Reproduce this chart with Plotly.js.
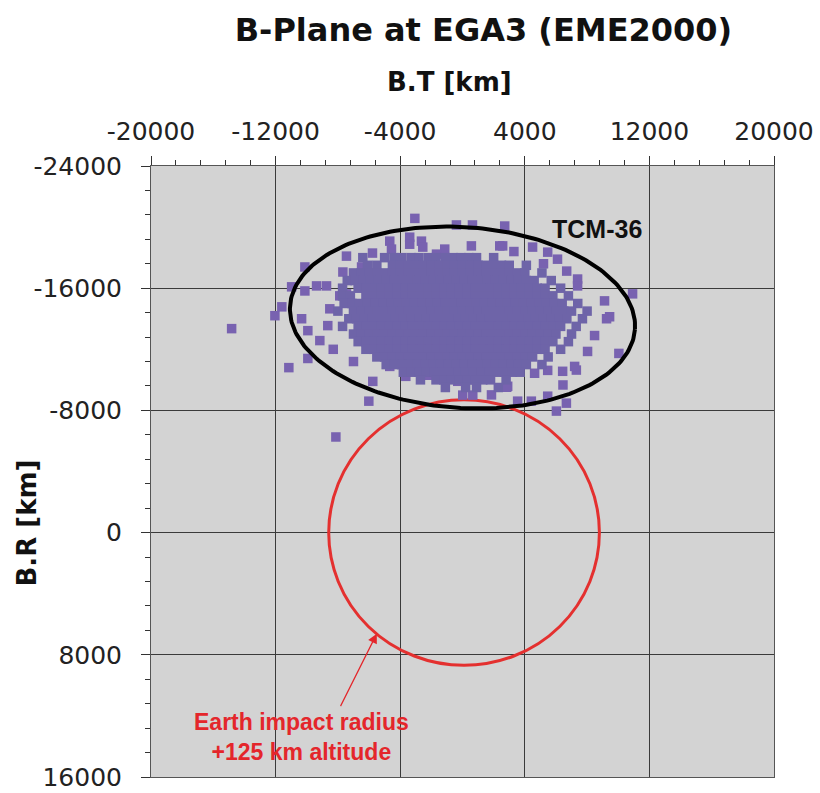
<!DOCTYPE html>
<html>
<head>
<meta charset="utf-8">
<script src="https://cdn.plot.ly/plotly-3.0.1.min.js"></script>
<style>html,body{margin:0;padding:0;background:#fff;}#chart{width:820px;height:793px;}</style>
</head>
<body>
<div id="chart"></div>
<script>
// ---- Tick labels ----
const xTickVals = [-20000, -12000, -4000, 4000, 12000, 20000];
const xTickText = ['-20000', '-12000', '-4000', '4000', '12000', '20000'];
const yTickVals = [-24000, -16000, -8000, 0, 8000, 16000];
const yTickText = ['-24000', '-16000', '-8000', '0', '8000', '16000'];

// ---- Sparse / outlying Monte-Carlo samples (B.T, B.R in km) ----
const outX = [-14823,-11150,-9930,-9160,-9930,-8650,-6015,-8130,-3640,-5760,-4670,-12045,-11600,-10970,-10120,-10120,-9370,-8730,-7450,-7680,-10330,-8520,-7880,-7450,-6480,-3060,-390,640,-3390,-3390,-4670,-4560,-5780,-2635,-2550,-1140,-1670,570,2390,2710,2580,4500,5470,7390,7390,9120,10920,9445,6690,8480,8030,10040,6450,6030,6670,5470,4420,3540,2840,1860,660,15,7310,6430,5470,4630,9250,7200,-2615,-2230,-1140,-306,2900,-8300,-7000,5200,6100,3300];
const outY = [-13353,-10800,-11400,-12570,-13220,-13550,-8605,-6260,-10230,-9900,-10880,-14200,-14780,-16090,-17390,-15820,-16150,-16150,-18100,-17060,-14000,-14650,-15500,-15630,-17390,-20570,-20140,-20140,-19340,-18880,-19080,-18560,-18300,-19080,-18690,-18560,-18230,-18770,-18770,-20070,-18770,-18690,-18360,-16600,-16150,-15170,-15630,-14130,-17120,-12900,-11860,-11730,-9665,-7955,-8475,-8930,-8605,-8605,-9516,-9015,-9000,-9000,-10640,-10560,-10620,-10430,-14000,-10880,-10620,-10300,-10430,-9906,-9580,-12000,-11200,-17600,-17900,-18400];

// ---- Dense core samples, read row by row (B.R of the row, B.T values) ----
const coreRowY = [-18000,-17500,-17000,-16500,-16000,-15500,-15000,-14500,-14000,-13500,-13000,-12500,-12000,-11500,-11000,-10500,-10000,-9500];
const coreRowX = [
  [-6400,-5000,-4400,-3900,-3300,-2800,-2200,-1700,-1100,-600,-100,400,900,2000],
  [-6100,-5500,-4500,-4000,-3500,-3000,-2500,-2000,-1500,-1000,-500,0,500,1000,1500,2000,2500,3000,4100],
  [-7000,-6500,-6000,-5500,-5000,-4500,-4000,-3500,-3000,-2500,-2000,-1500,-1000,-500,0,500,1000,1500,2000,2500,3000,3500,4000,5100],
  [-7400,-6900,-6400,-5900,-5400,-4900,-4400,-3900,-3400,-2900,-2400,-1900,-1400,-900,-400,100,600,1100,1600,2100,2600,3100,3600,4100,4600,5700],
  [-7700,-6700,-6200,-5700,-5200,-4700,-4200,-3700,-3200,-2700,-2200,-1700,-1200,-700,-200,300,800,1300,1800,2300,2800,3300,3800,4300,4800,5300,6300],
  [-7700,-7200,-6200,-5700,-5200,-4700,-4200,-3700,-3200,-2700,-2200,-1700,-1200,-700,-200,300,800,1300,1800,2300,2800,3300,3800,4300,4800,5300,5800,6800],
  [-7600,-7100,-6600,-6100,-5600,-5100,-4600,-4100,-3600,-3100,-2600,-2100,-1600,-1100,-600,-100,400,900,1400,1900,2400,2900,3400,3900,4400,4900,5400,5900,6400,7400],
  [-8000,-7000,-6500,-6000,-5500,-5000,-4500,-4000,-3500,-3000,-2500,-2000,-1500,-1000,-500,0,500,1000,1500,2000,2500,3000,3500,4000,4500,5000,5500,6000,6500,7000,8000],
  [-7300,-6800,-6300,-5800,-5300,-4800,-4300,-3800,-3300,-2800,-2300,-1800,-1300,-800,-300,200,700,1200,1700,2200,2700,3200,3700,4200,4700,5200,5700,6200,6700,7700],
  [-7700,-6700,-6200,-5700,-5200,-4700,-4200,-3700,-3200,-2700,-2200,-1700,-1200,-700,-200,300,800,1300,1800,2300,2800,3300,3800,4300,4800,5300,5800,6300,7300],
  [-7000,-6500,-6000,-5500,-5000,-4500,-4000,-3500,-3000,-2500,-2000,-1500,-1000,-500,0,500,1000,1500,2000,2500,3000,3500,4000,4500,5000,5500,6000,7000],
  [-6700,-6200,-5700,-5200,-4700,-4200,-3700,-3200,-2700,-2200,-1700,-1200,-700,-200,300,800,1300,1800,2300,2800,3300,3800,4300,4800,5300,5800,6800],
  [-6200,-5700,-5200,-4700,-4200,-3700,-3200,-2700,-2200,-1700,-1200,-700,-200,300,800,1300,1800,2300,2800,3300,3800,4300,4800,5300,6300],
  [-5500,-5000,-4500,-4000,-3500,-3000,-2500,-2000,-1500,-1000,-500,0,500,1000,1500,2000,2500,3000,3500,4000,4500,5500],
  [-4900,-4400,-3900,-3400,-2900,-2400,-1900,-1400,-900,-400,100,600,1100,1600,2100,2600,3100,3600,4100,5100],
  [-3800,-3300,-2800,-2300,-1800,-1300,-800,-300,200,700,1200,1700,2200,2700,3200,3700],
  [-2700,-1700,-1200,-700,-200,300,800,1300,1800,2800],
  [-1100,200,900,2300]
];

// ---- TCM-36 dispersion ellipse (centre, semi-axes km, tilt deg) ----
const ellCenter = [0, -14080];
const ellAxes = [11100, 5920];
const ellTiltDeg = 4;

// ---- Earth impact circle (centre, radius km) ----
const earthCenter = [100, 0];
const earthRadius = 8690;

// build sample arrays
const coreX = [], coreY = [];
coreRowY.forEach((yv, i) => coreRowX[i].forEach(xv => { coreX.push(xv); coreY.push(yv); }));

// ellipse outline
const ex = [], ey = [];
const th = ellTiltDeg * Math.PI / 180;
for (let k = 0; k <= 240; k++) {
  const t = 2 * Math.PI * k / 240;
  const u = ellAxes[0] * Math.cos(t), v = ellAxes[1] * Math.sin(t);
  ex.push(ellCenter[0] + u * Math.cos(th) - v * Math.sin(th));
  ey.push(ellCenter[1] + u * Math.sin(th) + v * Math.cos(th));
}

const traces = [
  {type: 'scatter', mode: 'markers', x: outX, y: outY,
   marker: {symbol: 'square', size: 9.5, color: '#7862b0', line: {width: 0}},
   hoverinfo: 'x+y', showlegend: false},
  {type: 'scatter', mode: 'markers', x: coreX, y: coreY,
   marker: {symbol: 'square', size: 9.5, color: '#6e64a8', line: {width: 0}},
   hoverinfo: 'x+y', showlegend: false},
  {type: 'scatter', mode: 'lines', x: ex, y: ey,
   line: {color: '#000000', width: 4}, hoverinfo: 'skip', showlegend: false}
];

const axisCommon = {
  tickmode: 'array', ticks: 'outside', ticklen: 9, tickwidth: 1, tickcolor: '#333',
  showgrid: true, gridcolor: '#3a3a3a', gridwidth: 1,
  showline: true, linecolor: '#555', linewidth: 1, mirror: true,
  zeroline: false, ticklabeloverflow: 'allow',
  tickfont: {family: 'DejaVu Sans', size: 25, color: '#222'},
  minor: {tickmode: 'linear', dtick: 1600, ticks: 'outside', ticklen: 5, tickcolor: '#333', showgrid: false}
};

const layout = {
  width: 820, height: 793,
  margin: {l: 151, r: 46, t: 166, b: 16, pad: 0},
  paper_bgcolor: '#ffffff', plot_bgcolor: '#d3d3d3',
  font: {family: 'DejaVu Sans', color: '#222'},
  showlegend: false,
  title: {text: '<b>B-Plane at EGA3 (EME2000)</b>', font: {family: 'DejaVu Sans', size: 32, color: '#111'},
          xref: 'container', yref: 'container', x: 0.5896, xanchor: 'center', y: 0.962, yanchor: 'middle'},
  xaxis: Object.assign({}, axisCommon, {
    side: 'top', range: [-20000, 20000], tickvals: xTickVals, ticktext: xTickText,
    minor: Object.assign({}, axisCommon.minor, {tick0: -20000}), ticklabelstandoff: 6
  }),
  yaxis: Object.assign({}, axisCommon, {
    range: [16000, -24000], tickvals: yTickVals, ticktext: yTickText,
    minor: Object.assign({}, axisCommon.minor, {tick0: -24000}), ticklabelstandoff: 14
  }),
  shapes: [
    {type: 'circle', xref: 'x', yref: 'y', layer: 'between',
     x0: earthCenter[0] - earthRadius, x1: earthCenter[0] + earthRadius,
     y0: earthCenter[1] - earthRadius, y1: earthCenter[1] + earthRadius,
     line: {color: '#e4302f', width: 3}}
  ],
  annotations: [
    {xref: 'paper', yref: 'paper', x: 0.4796, y: 1.137, xanchor: 'center', yanchor: 'middle', showarrow: false,
     text: '<b>B.T [km]</b>', font: {family: 'DejaVu Sans', size: 26, color: '#111'}},
    {xref: 'paper', yref: 'paper', x: -0.199, y: 0.415, xanchor: 'center', yanchor: 'middle', showarrow: false, textangle: -90,
     text: '<b>B.R [km]</b>', font: {family: 'DejaVu Sans', size: 26, color: '#111'}},
    {xref: 'x', yref: 'y', x: 8611, y: -19857, xanchor: 'center', yanchor: 'middle', showarrow: false,
     text: '<b>TCM-36</b>', font: {family: 'Liberation Sans', size: 25, color: '#111'}},
    {xref: 'x', yref: 'y', x: -10313, y: 13400, xanchor: 'center', yanchor: 'middle', showarrow: false,
     text: '<b>Earth impact radius<br>+125 km altitude</b>',
     font: {family: 'Liberation Sans', size: 23, color: '#e4262b'}},
    {xref: 'x', yref: 'y', x: -5502, y: 6614, ax: -37, ay: 74, text: '', showarrow: true,
     arrowcolor: '#e4262b', arrowhead: 2, arrowsize: 1.6, arrowwidth: 1.2}
  ]
};

Plotly.newPlot('chart', traces, layout, {displayModeBar: false, staticPlot: true});
</script>
</body>
</html>
